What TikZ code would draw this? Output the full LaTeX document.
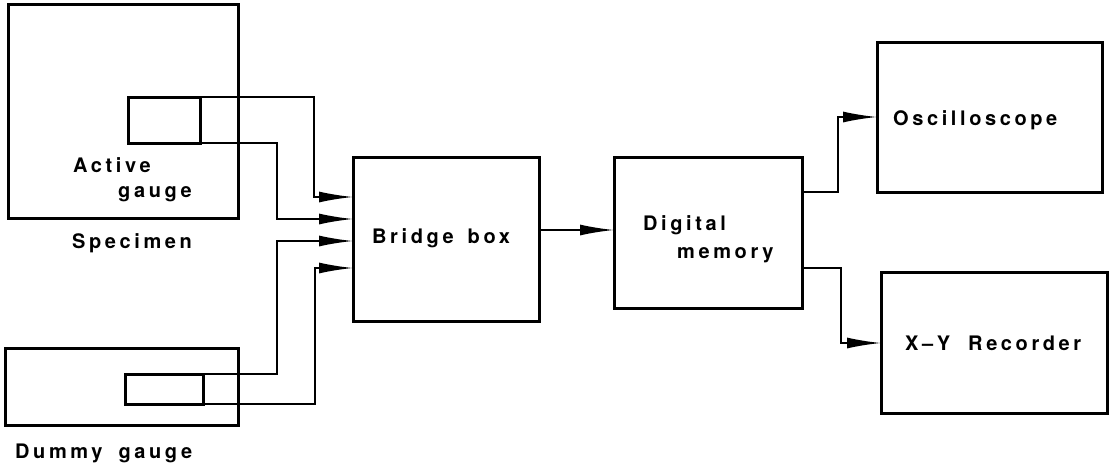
\documentclass[tikz,border=0pt]{standalone}
\usepackage{fontspec}
\newfontfamily\lab{TeX Gyre Heros}[LetterSpace=18]
\usetikzlibrary{arrows.meta}
\begin{document}
\begin{tikzpicture}[x=1pt,y=-1pt,
  box/.style={draw,line width=3pt,anchor=north west,inner sep=0pt,outer sep=0pt},
  wire/.style={line width=1.8pt},
  arr/.style={wire,-{Latex[length=34pt,width=11pt]}},
  lbl/.style={anchor=base west,inner sep=0pt,font=\lab\bfseries\fontsize{20}{23}\selectfont}]
\useasboundingbox (0,0) rectangle (1111,467);
% boxes
\node[box,minimum width=230pt,minimum height=214pt] (spec) at (8,4) {};
\node[box,minimum width=72pt,minimum height=46pt] (ag) at (128,97) {};
\node[box,minimum width=233pt,minimum height=77pt] (dum) at (5,348) {};
\node[box,minimum width=78pt,minimum height=30pt] (dg) at (125,374) {};
\node[box,minimum width=186pt,minimum height=164pt] (bb) at (353,157) {};
\node[box,minimum width=188pt,minimum height=151pt] (dm) at (614,157) {};
\node[box,minimum width=225pt,minimum height=150pt] (osc) at (877,42) {};
\node[box,minimum width=226pt,minimum height=141pt] (xy) at (881,272) {};
% labels
\node[lbl] (t1) at (73,172) {Active};
\node[lbl] (t2) at (118,197) {gauge};
\node[lbl] (t3) at (72,248) {Specimen};
\node[lbl] (t4) at (15,458) {Dummy\hspace{16pt}gauge};
\node[lbl] (t5) at (372,243) {Bridge\hspace{14pt}box};
\node[lbl] (t6) at (643,230) {Digital};
\node[lbl] (t7) at (677,258) {memory};
\node[lbl] (t8) at (893,125) {Oscilloscope};
\node[lbl] (t9) at (905,350) {X–Y\hspace{18pt}Recorder};
% helper coordinates
\coordinate (y1) at (0,197);
\coordinate (y2) at (0,219);
\coordinate (y3) at (0,241);
\coordinate (y4) at (0,268);
\coordinate (yb) at (0,230);
\coordinate (xa) at (314,0);
\coordinate (xb) at (277,0);
\coordinate (xc) at (315,0);
\coordinate (xo) at (838,0);
\coordinate (xr) at (841,0);
\coordinate (yo1) at (0,192);
\coordinate (yo2) at (0,117);
\coordinate (yr1) at (0,268);
\coordinate (yr2) at (0,343);
% wires
\draw[arr] (ag.north east) -| (xa |- y1) -- (bb.west |- y1);
\draw[arr] (ag.south east) -| (xb |- y2) -- (bb.west |- y2);
\draw[arr] (dg.north east) -| (xb |- y3) -- (bb.west |- y3);
\draw[arr] (dg.south east) -| (xc |- y4) -- (bb.west |- y4);
\draw[arr] (bb.east |- yb) -- (dm.west |- yb);
\draw[arr] (dm.east |- yo1) -| (xo |- yo2) -- (osc.west |- yo2);
\draw[arr] (dm.east |- yr1) -| (xr |- yr2) -- (xy.west |- yr2);
\end{tikzpicture}
\end{document}
